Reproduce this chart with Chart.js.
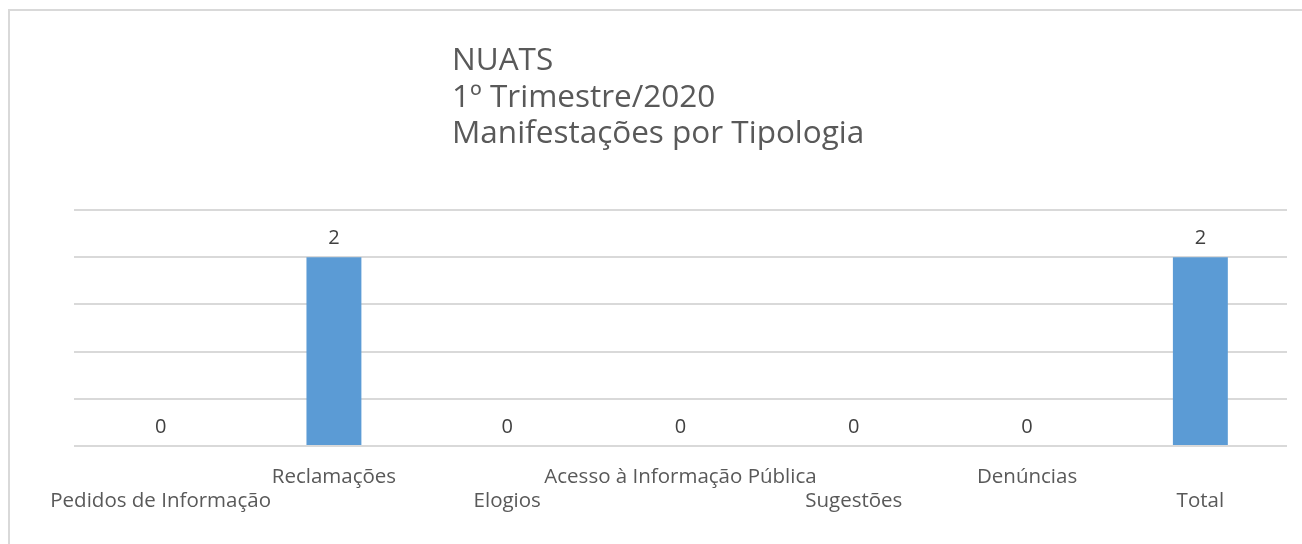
<!DOCTYPE html>
<html>
<head>
<meta charset="utf-8">
<style>
html,body{margin:0;padding:0;background:#fff;overflow:hidden;}
#wrap{position:relative;width:1302px;height:544px;}
</style>
<script src="https://cdn.jsdelivr.net/npm/chart.js@4/dist/chart.umd.min.js"></script>
</head>
<body>
<div id="wrap"><canvas id="c" width="1302" height="544"></canvas></div>
<script>
const titleLines = ['NUATS', '1º Trimestre/2020', 'Manifestações por Tipologia'];
const categories = ['Pedidos de Informação', 'Reclamações', 'Elogios', 'Acesso à Informação Pública', 'Sugestões', 'Denúncias', 'Total'];
const values = [0, 2, 0, 0, 0, 0, 2];
const yMin = 0, yMax = 2.5, yStep = 0.5;

const FONT = "'Open Sans', 'Noto Sans', sans-serif";

const frameAndTitle = {
  id: 'frameAndTitle',
  beforeDraw(chart) {
    const ctx = chart.ctx;
    ctx.save();
    ctx.strokeStyle = '#d9d9d9';
    ctx.lineWidth = 2;
    ctx.strokeRect(9, 10, 1400, 600);
    ctx.restore();
  },
  afterDraw(chart) {
    const ctx = chart.ctx;
    ctx.save();
    ctx.fillStyle = '#595959';
    ctx.font = "31.5px " + FONT;
    ctx.textBaseline = 'alphabetic';
    ctx.textAlign = 'left';
    const baselines = [70, 107, 143];
    titleLines.forEach((t, i) => ctx.fillText(t, 452, baselines[i]));
    // value labels
    const meta = chart.getDatasetMeta(0);
    ctx.fillStyle = '#404040';
    ctx.font = "20px " + FONT;
    ctx.textAlign = 'center';
    ctx.textBaseline = 'bottom';
    meta.data.forEach((bar, i) => {
      ctx.fillText(String(values[i]), bar.x, bar.y - 9);
    });
    ctx.restore();
  }
};

new Chart(document.getElementById('c'), {
  type: 'bar',
  data: {
    labels: categories,
    datasets: [{
      data: values,
      backgroundColor: '#5b9bd5',
      borderWidth: 0,
      barPercentage: 1,
      categoryPercentage: 0.317
    }]
  },
  options: {
    responsive: false,
    animation: false,
    events: [],
    layout: { padding: { left: 74, right: 15, top: 210, bottom: 0 } },
    plugins: { legend: { display: false }, tooltip: { enabled: false }, title: { display: false } },
    scales: {
      x: {
        grid: { display: false, drawTicks: false },
        border: { display: false },
        ticks: {
          autoSkip: false, maxRotation: 0, minRotation: 0,
          color: '#595959',
          font: { family: FONT, size: 20.5, lineHeight: 1.17 },
          padding: 19,
          callback: function(v, i) { return i % 2 === 0 ? ['', categories[i]] : [categories[i]]; }
        },
        afterFit(scale) { scale.height = 98; }
      },
      y: {
        min: yMin, max: yMax,
        ticks: { display: false, stepSize: yStep },
        grid: { color: '#d9d9d9', lineWidth: 2, drawTicks: false },
        border: { display: false },
        afterFit(scale) { scale.width = 0; }
      }
    }
  },
  plugins: [frameAndTitle]
});
</script>
</body>
</html>
